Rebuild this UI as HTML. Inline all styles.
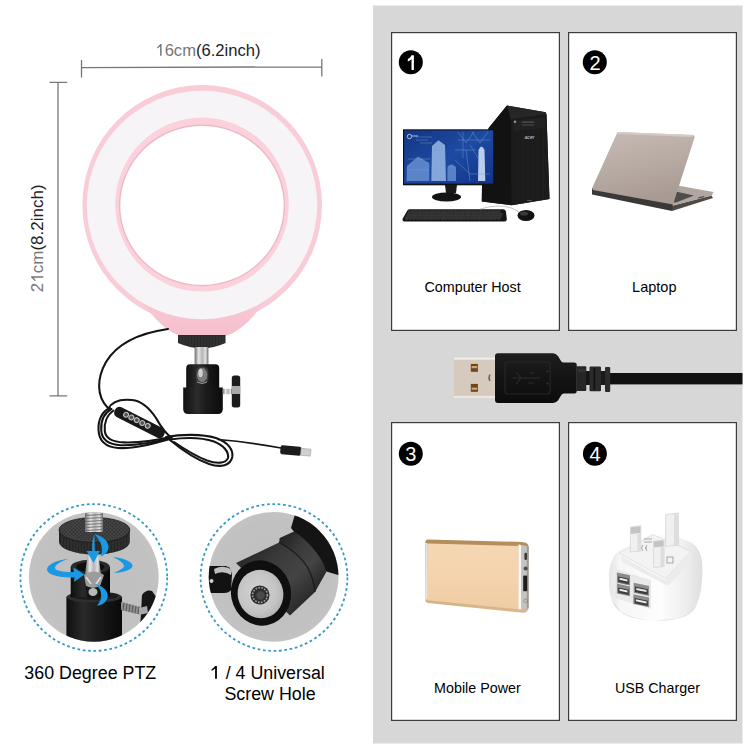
<!DOCTYPE html>
<html><head><meta charset="utf-8">
<style>
html,body{margin:0;padding:0;background:#fff;}
body{width:750px;height:750px;overflow:hidden;position:relative;font-family:"Liberation Sans",sans-serif;}
svg{position:absolute;left:0;top:0;display:block;}
</style></head>
<body>
<svg width="750" height="750" viewBox="0 0 750 750" font-family="Liberation Sans, sans-serif">
<defs>
</defs>
<rect width="750" height="750" fill="#fff"/>

<!-- ===== RIGHT PANEL ===== -->
<rect x="373" y="5.5" width="369.5" height="738" fill="#d7d7d7"/>
<g fill="#fff" stroke="#3c3c3c" stroke-width="1.2">
  <rect x="391.6" y="32.6" width="167.8" height="297.8"/>
  <rect x="568.6" y="32.6" width="167.8" height="297.8"/>
  <rect x="391.6" y="422.6" width="167.8" height="297.8"/>
  <rect x="568.6" y="422.6" width="167.8" height="297.8"/>
</g>
<g fill="#000">
  <circle cx="410.8" cy="62.2" r="12"/>
  <circle cx="594.8" cy="62.2" r="12"/>
  <circle cx="410.8" cy="453.8" r="12"/>
  <circle cx="594.9" cy="453.8" r="12"/>
</g>
<path d="M411.6 55.2 H413.9 V70 H411.5 V59.2 Q409.9 60.6 407.8 61.4 V59.1 Q410.3 57.9 411.6 55.2 Z" fill="#fff"/>
<g fill="#fff" font-size="20" text-anchor="middle">
  <text x="595" y="69.8">2</text>
  <text x="410.8" y="461.2">3</text>
  <text x="595" y="461.2">4</text>
</g>
<g fill="#000" font-size="14.3" text-anchor="middle">
  <text x="472.6" y="292.4">Computer Host</text>
  <text x="654.3" y="292.4" font-size="14.5">Laptop</text>
  <text x="477.4" y="692.8">Mobile Power</text>
  <text x="657.4" y="692.8">USB Charger</text>
</g>

<!-- ===== USB PLUG (middle) ===== -->
<defs>
  <linearGradient id="usbm" x1="0" x2="1" y1="0" y2="0">
    <stop offset="0" stop-color="#d9cbb8"/>
    <stop offset="0.25" stop-color="#f0e8dc"/>
    <stop offset="0.7" stop-color="#e9dfd2"/>
    <stop offset="1" stop-color="#cfc2b1"/>
  </linearGradient>
  <linearGradient id="usbb" x1="0" x2="0" y1="0" y2="1">
    <stop offset="0" stop-color="#1e1e1e"/>
    <stop offset="0.5" stop-color="#141414"/>
    <stop offset="1" stop-color="#0c0c0c"/>
  </linearGradient>
</defs>
<rect x="605" y="373" width="137.5" height="11.4" fill="#111"/>
<rect x="453.9" y="357.3" width="42" height="40.7" fill="#d5cabd"/>
<rect x="453.9" y="357.3" width="42" height="2.4" fill="#f1ece5"/>
<rect x="453.9" y="395.8" width="42" height="2.2" fill="#ede7df"/>
<rect x="470.8" y="363.9" width="7.1" height="7.9" fill="#6b4620"/>
<rect x="471.6" y="366" width="5.5" height="2.2" fill="#d5a262"/>
<rect x="470.8" y="383.9" width="7.1" height="7.9" fill="#6b4620"/>
<rect x="471.6" y="387.6" width="5.5" height="2.2" fill="#d5a262"/>
<path d="M489 374.5 Q487.5 377.7 489 381 L490.5 381 Q489.5 377.7 490.5 374.5 Z" fill="#666"/>
<path d="M495 356 Q495 353.2 498 353.2 H553 Q556 353.2 558 356 L561 361 Q562 362.5 564 362.5 H574.5 Q576.8 362.5 576.8 365 V391 Q576.8 393.6 574.5 393.6 H564 Q562 393.6 561 395.5 L558 400.5 Q556 402.9 553 402.9 H498 Q495 402.9 495 400 Z" fill="url(#usbb)"/>
<rect x="505" y="362" width="45" height="32" rx="3" fill="none" stroke="#262626" stroke-width="1.2"/>
<g stroke="#2c2c2c" stroke-width="1.1" fill="none">
  <path d="M512 378 H540 M516 372 L521 378 L516 384 M530 373 L534 373 M528 383 L534 383"/>
</g>
<circle cx="547.5" cy="371.3" r="0.9" fill="#3a3a3a"/>
<circle cx="547.5" cy="383.5" r="0.9" fill="#3a3a3a"/>
<rect x="576.5" y="366.3" width="9.8" height="24.6" rx="1" fill="#262626"/>
<rect x="578" y="369" width="7" height="3" fill="#333"/>
<rect x="586" y="371" width="4" height="14" fill="#151515"/>
<rect x="589.5" y="366.5" width="11.5" height="24.8" rx="1" fill="#2a2a2a"/>
<rect x="593.6" y="368" width="1.6" height="22" fill="#111"/>
<rect x="601" y="371" width="4.2" height="14" fill="#1a1a1a"/>
<rect x="605" y="367" width="5.2" height="25" rx="1" fill="#2b2b2b"/>
<!-- ===== COMPUTER ===== -->
<defs>
  <linearGradient id="scr" x1="0" x2="1" y1="0" y2="1">
    <stop offset="0" stop-color="#143685"/>
    <stop offset="0.5" stop-color="#1d4aa2"/>
    <stop offset="1" stop-color="#12338a"/>
  </linearGradient>
</defs>
<path d="M481.8 201.4 L482.5 150 L488.7 128 L507 105.6 L545.7 112.2 L546.5 114.5 L549.5 199 L511.5 205.2 Z" fill="#161616"/>
<path d="M481.8 201.4 L482.5 150 L488.7 128 L507 105.6 L510.7 119.3 L511.5 205.2 Z" fill="#121212"/>
<path d="M507 105.6 L545.7 112.2 L546.5 114.5 L510.7 119.3 Z" fill="#262626"/>
<path d="M510.7 119.3 L546.5 114.5 L549.5 199 L511.5 205.2 Z" fill="#1b1b1b"/>
<path d="M513 121 L545 117 L545.5 128 L513.5 131 Z" fill="#222"/>
<g stroke="#262626" stroke-width="0.6"><path d="M518 130 V204 M523 129.5 V203.5 M528 129 V202.5 M533 128.5 V201.8 M538 128 V201 M543 127.5 V200.3"/></g>
<circle cx="515" cy="121.7" r="1.2" fill="#9a9a9a"/>
<rect x="522" y="121.5" width="12" height="1.2" fill="#555"/>
<rect x="522" y="124.3" width="12" height="1.2" fill="#444"/>
<text x="529.5" y="138.5" font-size="5.2" fill="#d0d0d0" text-anchor="middle" font-style="italic">acer</text>
<rect x="527" y="200" width="5" height="1" fill="#555"/>
<rect x="403" y="129.3" width="91" height="56" fill="#111"/>
<rect x="404.2" y="130.4" width="89" height="53.2" fill="url(#scr)"/>
<g fill="#8fb6ea" opacity="0.55">
  <path d="M406.7 181 L407 166 L418 156.5 L429.3 163 L429.3 181 Z"/>
  <path d="M447.3 181 L447.5 166 L452 164.3 L456 167 L456 181 Z"/>
</g>
<g fill="#b4d0f4" opacity="0.7">
  <path d="M431.3 181 L432 146 L438.5 140.3 L445 145 L446 181 Z"/>
</g>
<g fill="#d6e6fa" opacity="0.85">
  <path d="M478 181 L478.5 150 Q481.5 143 484.5 150 L485.3 181 Z"/>
</g>
<g stroke="#7fa6de" stroke-width="0.5" fill="none" opacity="0.8">
  <path d="M408 159 L430 159 M406.7 170 L429 170 M433 150 H445 M433 160 H445 M433 170 H445 M436 142 V181 M441 142 V181"/>
  <path d="M458 132 L466 143 L474 132 M472 132 L480 143 L488 132 M458 140 H490 M463 132 V158 M470 145 L478 158 M455 150 H476 M466 150 L470 181 M455 160 L470 174 L490 174"/>
  <path d="M416 137 H432 M416 140 H428 M420 143 H432"/>
</g>
<circle cx="409.5" cy="136.5" r="2.2" fill="none" stroke="#cfe0f6" stroke-width="0.8"/>
<path d="M412 136 H418" stroke="#cfe0f6" stroke-width="0.8"/>
<path d="M445 185 L457 185 L456 193 L446 193 Z" fill="#1a1a1a"/>
<ellipse cx="446.5" cy="197" rx="14.5" ry="4.5" fill="#141414"/>
<path d="M409.5 209.2 H503 Q505.5 209.2 506 212 L506.8 219 Q507 221.4 504.5 221.4 H404.5 Q402 221.3 402.6 218.8 L406.8 211.5 Q407.5 209.2 409.5 209.2 Z" fill="#151515"/>
<g fill="#303030" stroke="#474747" stroke-width="0.35"><rect x="408.5" y="210.8" width="2.7" height="2.1"/><rect x="412.1" y="210.8" width="2.7" height="2.1"/><rect x="415.7" y="210.8" width="2.7" height="2.1"/><rect x="419.3" y="210.8" width="2.7" height="2.1"/><rect x="422.9" y="210.8" width="2.7" height="2.1"/><rect x="426.5" y="210.8" width="2.7" height="2.1"/><rect x="430.1" y="210.8" width="2.7" height="2.1"/><rect x="433.7" y="210.8" width="2.7" height="2.1"/><rect x="437.3" y="210.8" width="2.7" height="2.1"/><rect x="440.9" y="210.8" width="2.7" height="2.1"/><rect x="444.5" y="210.8" width="2.7" height="2.1"/><rect x="448.1" y="210.8" width="2.7" height="2.1"/><rect x="451.7" y="210.8" width="2.7" height="2.1"/><rect x="455.3" y="210.8" width="2.7" height="2.1"/><rect x="458.9" y="210.8" width="2.7" height="2.1"/><rect x="462.5" y="210.8" width="2.7" height="2.1"/><rect x="466.1" y="210.8" width="2.7" height="2.1"/><rect x="469.7" y="210.8" width="2.7" height="2.1"/><rect x="473.3" y="210.8" width="2.7" height="2.1"/><rect x="476.9" y="210.8" width="2.7" height="2.1"/><rect x="480.5" y="210.8" width="2.7" height="2.1"/><rect x="484.1" y="210.8" width="3.3" height="2.1"/><rect x="488.3" y="210.8" width="3.3" height="2.1"/><rect x="492.5" y="210.8" width="3.3" height="2.1"/><rect x="496.7" y="210.8" width="3.3" height="2.1"/><rect x="407.3" y="213.1" width="2.7" height="2.1"/><rect x="410.9" y="213.1" width="2.7" height="2.1"/><rect x="414.5" y="213.1" width="2.7" height="2.1"/><rect x="418.1" y="213.1" width="2.7" height="2.1"/><rect x="421.7" y="213.1" width="2.7" height="2.1"/><rect x="425.3" y="213.1" width="2.7" height="2.1"/><rect x="428.9" y="213.1" width="2.7" height="2.1"/><rect x="432.5" y="213.1" width="2.7" height="2.1"/><rect x="436.1" y="213.1" width="2.7" height="2.1"/><rect x="439.7" y="213.1" width="2.7" height="2.1"/><rect x="443.3" y="213.1" width="2.7" height="2.1"/><rect x="446.9" y="213.1" width="2.7" height="2.1"/><rect x="450.5" y="213.1" width="2.7" height="2.1"/><rect x="454.1" y="213.1" width="2.7" height="2.1"/><rect x="457.7" y="213.1" width="2.7" height="2.1"/><rect x="461.3" y="213.1" width="2.7" height="2.1"/><rect x="464.9" y="213.1" width="2.7" height="2.1"/><rect x="468.5" y="213.1" width="2.7" height="2.1"/><rect x="472.1" y="213.1" width="2.7" height="2.1"/><rect x="475.7" y="213.1" width="2.7" height="2.1"/><rect x="479.3" y="213.1" width="2.7" height="2.1"/><rect x="482.9" y="213.1" width="2.7" height="2.1"/><rect x="486.5" y="213.1" width="3.3" height="2.1"/><rect x="490.7" y="213.1" width="3.3" height="2.1"/><rect x="494.9" y="213.1" width="3.3" height="2.1"/><rect x="499.1" y="213.1" width="3.3" height="2.1"/><rect x="406.1" y="215.4" width="2.7" height="2.1"/><rect x="409.7" y="215.4" width="2.7" height="2.1"/><rect x="413.3" y="215.4" width="2.7" height="2.1"/><rect x="416.9" y="215.4" width="2.7" height="2.1"/><rect x="420.5" y="215.4" width="2.7" height="2.1"/><rect x="424.1" y="215.4" width="2.7" height="2.1"/><rect x="427.7" y="215.4" width="2.7" height="2.1"/><rect x="431.3" y="215.4" width="2.7" height="2.1"/><rect x="434.9" y="215.4" width="2.7" height="2.1"/><rect x="438.5" y="215.4" width="2.7" height="2.1"/><rect x="442.1" y="215.4" width="2.7" height="2.1"/><rect x="445.7" y="215.4" width="2.7" height="2.1"/><rect x="449.3" y="215.4" width="2.7" height="2.1"/><rect x="452.9" y="215.4" width="2.7" height="2.1"/><rect x="456.5" y="215.4" width="2.7" height="2.1"/><rect x="460.1" y="215.4" width="2.7" height="2.1"/><rect x="463.7" y="215.4" width="2.7" height="2.1"/><rect x="467.3" y="215.4" width="2.7" height="2.1"/><rect x="470.9" y="215.4" width="2.7" height="2.1"/><rect x="474.5" y="215.4" width="2.7" height="2.1"/><rect x="478.1" y="215.4" width="2.7" height="2.1"/><rect x="481.7" y="215.4" width="2.7" height="2.1"/><rect x="485.3" y="215.4" width="3.3" height="2.1"/><rect x="489.5" y="215.4" width="3.3" height="2.1"/><rect x="493.7" y="215.4" width="3.3" height="2.1"/><rect x="497.9" y="215.4" width="3.3" height="2.1"/><rect x="405.2" y="217.7" width="2.7" height="1.9"/><rect x="408.8" y="217.7" width="2.7" height="1.9"/><rect x="412.4" y="217.7" width="2.7" height="1.9"/><rect x="416.0" y="217.7" width="2.7" height="1.9"/><rect x="419.6" y="217.7" width="2.7" height="1.9"/><rect x="423.2" y="217.7" width="2.7" height="1.9"/><rect x="426.8" y="217.7" width="2.7" height="1.9"/><rect x="430.4" y="217.7" width="2.7" height="1.9"/><rect x="434.0" y="217.7" width="2.7" height="1.9"/><rect x="437.6" y="217.7" width="2.7" height="1.9"/><rect x="441.2" y="217.7" width="2.7" height="1.9"/><rect x="444.8" y="217.7" width="2.7" height="1.9"/><rect x="448.4" y="217.7" width="2.7" height="1.9"/><rect x="452.0" y="217.7" width="2.7" height="1.9"/><rect x="455.6" y="217.7" width="2.7" height="1.9"/><rect x="459.2" y="217.7" width="2.7" height="1.9"/><rect x="462.8" y="217.7" width="2.7" height="1.9"/><rect x="466.4" y="217.7" width="2.7" height="1.9"/><rect x="470.0" y="217.7" width="2.7" height="1.9"/><rect x="473.6" y="217.7" width="2.7" height="1.9"/><rect x="477.2" y="217.7" width="2.7" height="1.9"/><rect x="480.8" y="217.7" width="2.7" height="1.9"/><rect x="484.4" y="217.7" width="3.3" height="1.9"/><rect x="488.6" y="217.7" width="3.3" height="1.9"/><rect x="492.8" y="217.7" width="3.3" height="1.9"/><rect x="497.0" y="217.7" width="3.3" height="1.9"/></g>
<path d="M480 209 Q498 204 510 207.5 Q515 209.5 519 212" stroke="#b5b5b5" stroke-width="0.8" fill="none"/>
<ellipse cx="526" cy="215.5" rx="8.5" ry="5.5" fill="#121212"/>
<ellipse cx="524" cy="213.5" rx="4" ry="2" fill="#3a3a3a"/>

<!-- ===== LAPTOP ===== -->
<defs>
  <linearGradient id="lid" x1="0" x2="0.3" y1="0" y2="1">
    <stop offset="0" stop-color="#c7bbb5"/>
    <stop offset="0.6" stop-color="#b6a9a2"/>
    <stop offset="1" stop-color="#a99b94"/>
  </linearGradient>
</defs>
<path d="M671 206 L711.5 195.5 L713 198 L672 211 Z" fill="#4e4a48"/>
<path d="M677.3 185.5 L713.6 192 L711.5 195.8 L671 206 Z" fill="#b1a7a1"/>
<path d="M675.5 191.5 L694 195.5 L676 202.5 L671.5 202.5 Z" fill="#4f4c4c"/>
<path d="M698 197.5 L704 196 L704.5 197 L698.5 198.5 Z" fill="#444"/>
<path d="M592 188 L673 203 L672 211 L592 194.5 Z" fill="#3b3938"/>
<path d="M617.5 132 L693 135 Q695 135.5 694.6 137.5 L673 204.5 L593 190 Q592 188.5 592.6 187 Z" fill="url(#lid)"/>
<path d="M617.5 132 L693 135 L692 137 L618 134 Z" fill="#d4cbc6"/>
<!-- ===== POWER BANK ===== -->
<defs>
  <linearGradient id="pb" x1="0" x2="0" y1="0" y2="1">
    <stop offset="0" stop-color="#f5d7b3"/>
    <stop offset="0.5" stop-color="#f4d3ae"/>
    <stop offset="1" stop-color="#efcca3"/>
  </linearGradient>
  <linearGradient id="pbe" x1="0" x2="0" y1="0" y2="1">
    <stop offset="0" stop-color="#b38c58"/>
    <stop offset="0.5" stop-color="#c9a473"/>
    <stop offset="1" stop-color="#d8b98e"/>
  </linearGradient>
</defs>
<path d="M428 539.4 L522 542 Q528 542.5 528.6 546 L528.6 608 Q528 612.5 523 612.8 L428 603 Q425.3 602.5 425.3 599.5 L425.3 542.5 Q425.5 539.5 428 539.4 Z" fill="url(#pbe)"/>
<path d="M427.5 543.6 L518.4 546 L518.4 609.3 L427.5 600.3 Z" fill="url(#pb)"/>
<path d="M425.4 542.5 L427.6 543.6 L427.6 599 L425.4 600 Z" fill="#e9e4e0"/>
<path d="M518.4 544.5 L521.2 545 L521.2 609.5 L518.4 609 Z" fill="#fbfaf8"/>
<path d="M521 545 L528.6 546.5 L528.6 608 L521 610 Z" fill="#c6c3c1"/>
<path d="M526.8 546 L528.6 546.5 L528.6 608 L526.8 609 Z" fill="#9c9896"/>
<rect x="524.4" y="552.8" width="2.6" height="7.2" rx="1.2" fill="#3a3a3a"/>
<circle cx="525.6" cy="568.4" r="2" fill="#4a4a4a"/>
<rect x="523.2" y="575.6" width="4" height="15.6" fill="#1e1e1e"/>
<circle cx="525.6" cy="600.8" r="1.8" fill="none" stroke="#7a7a7a" stroke-width="0.6"/>

<!-- ===== USB CHARGER ===== -->
<defs>
  <linearGradient id="chg" x1="0" x2="1" y1="0" y2="0">
    <stop offset="0" stop-color="#e4e4e4"/>
    <stop offset="0.12" stop-color="#f6f6f6"/>
    <stop offset="0.55" stop-color="#fdfdfd"/>
    <stop offset="0.8" stop-color="#efefef"/>
    <stop offset="1" stop-color="#dedede"/>
  </linearGradient>
</defs>
<path d="M609 585 Q608 566 614 556 Q618 550 626 547 L650 537 Q662 533 676 536 L692 543 Q702 550 702.4 566 Q703 590 697 604 Q692 616 676 619.5 L656 621 Q636 621 620 612 Q610 604 609 585 Z" fill="url(#chg)"/>
<path d="M612 600 Q616 612 630 617 Q648 622 670 620 Q690 617 697 604 Q694 614 678 618.5 L656 620.5 Q636 620.5 621 612 Z" fill="#dcdcdc"/>
<path d="M619 553 L652.8 534.6 L691.2 551.4 L665.6 578.6 Z" fill="#f3f3f3" stroke="#e2e2e2" stroke-width="1"/>
<path d="M621 556 L665 580 L691 552 L692 560 L668 586 L622 562 Z" fill="#ececec"/>
<path d="M615 569 L651 580 L651 609 L615 598 Z" fill="#e9e9e9"/>
<g fill="#8c8c8c">
  <path d="M616.9 572.5 L630 575.3 L630 585.5 L616.9 582.7 Z"/>
  <path d="M616.9 583.6 L630 586.4 L630 596.2 L616.9 593.4 Z"/>
  <path d="M633.7 582.8 L649.1 586 L649.1 596 L633.7 592.8 Z"/>
  <path d="M633.3 594.2 L649.1 597.4 L649.1 607.2 L633.3 604 Z"/>
</g>
<g fill="#3c3c3c">
  <path d="M618.2 576.5 L628.8 578.8 L628.8 584.2 L618.2 581.9 Z"/>
  <path d="M618.2 587.4 L628.8 589.7 L628.8 595 L618.2 592.7 Z"/>
  <path d="M635 586.6 L647.8 589.3 L647.8 594.8 L635 592.1 Z"/>
  <path d="M634.6 598 L647.8 600.7 L647.8 606 L634.6 603.3 Z"/>
</g>
<g fill="#ececec">
  <path d="M619.5 577.8 L627.5 579.5 L627.5 581.5 L619.5 579.8 Z"/>
  <path d="M619.5 588.7 L627.5 590.4 L627.5 592.4 L619.5 590.7 Z"/>
  <path d="M636.3 587.9 L646.5 590 L646.5 592 L636.3 589.9 Z"/>
  <path d="M635.9 599.3 L646.5 601.5 L646.5 603.5 L635.9 601.3 Z"/>
</g>
<g fill="#f0f0f0" stroke="#d0d0d0" stroke-width="0.7">
  <path d="M630.4 527 L640.8 525.8 L640.8 551 L630.4 552 Z"/>
  <path d="M665.6 514.5 L678.4 513 L678.4 545 L665.6 546.5 Z"/>
  <path d="M653.6 541 L664 540.2 L664 566.6 L653.6 567.4 Z"/>
</g>
<g fill="#c4c4c4"><path d="M630.8 527.5 L640.4 526.3 L640.4 533 L630.8 534 Z"/><path d="M654 541.4 L663.6 540.6 L663.6 546.5 L654 547.2 Z"/></g>
<g fill="#dedede"><path d="M674 513.5 L678.4 513 L678.4 545 L674 545.5 Z"/><path d="M637.5 534 L640.8 533.6 L640.8 551 L637.5 551.3 Z"/><path d="M660.5 547 L664 546.6 L664 566.6 L660.5 567 Z"/></g>
<g fill="none" stroke="#8a8a8a" stroke-width="0.7">
  <path d="M643 545 Q640 548 643 551 M647 545 Q644 548 647 551 M645 548 H647"/>
  <rect x="667" y="557" width="6" height="6"/>
  <path d="M644 539 H652 M644 542 H652"/>
</g>

<!-- ===== LEFT TEXT ===== -->
<g text-anchor="middle">
  <text x="164.63" y="55.8" font-size="16.6" text-anchor="start"><tspan fill="#777">6cm</tspan><tspan fill="#222">(6.2inch)</tspan></text>
  <path d="M160.1 43.9 H161.6 V55.8 H160.1 V46.5 Q158.9 47.7 157.2 48.5 V47 Q159.2 45.9 160.1 43.9 Z" fill="#777"/>
  <g transform="translate(43.3,238.3) rotate(-90)">
    <text x="-53.85" y="0" font-size="17" text-anchor="start"><tspan fill="#777">2</tspan></text>
    <path d="M-39.55 -12.17 H-38.0 V0 H-39.55 V-9.5 Q-40.8 -8.3 -42.55 -7.4 V-8.9 Q-40.5 -10.1 -39.55 -12.17 Z" fill="#777"/>
    <text x="-34.95" y="0" font-size="17" text-anchor="start"><tspan fill="#777">cm</tspan><tspan fill="#222">(8.2inch)</tspan></text>
  </g>
</g>
<g stroke="#777" stroke-width="1.3" fill="none">
  <path d="M81.5 67.6 L321.8 66.8 M81.5 60 V77.5 M321.8 59 V76.5"/>
  <path d="M58 82.4 V395.8 M49.5 82.4 H67.2 M49.5 395.8 H67.2"/>
</g>
<!-- ===== RING LIGHT ===== -->
<g id="ring">
  <defs>
    <linearGradient id="chin" x1="0" x2="0" y1="0" y2="1">
      <stop offset="0" stop-color="#f9c9d5"/>
      <stop offset="1" stop-color="#f6bfcd"/>
    </linearGradient>
  </defs>
  <ellipse cx="202.2" cy="205" rx="119.8" ry="120" fill="#f9cdd8"/>
  <path d="M140 300 Q164 332 180 335.5 L226 335.5 Q244 331 266 300 Z" fill="url(#chin)"/>
  <ellipse cx="202" cy="204.95" rx="115.2" ry="114.25" fill="#f7f4f7"/>
  <ellipse cx="202" cy="204.55" rx="86.8" ry="87.05" fill="#fbd1db"/>
  <ellipse cx="202" cy="205.4" rx="82.4" ry="80.2" fill="none" stroke="#eab8c7" stroke-width="1.3"/>
  <ellipse cx="202" cy="205.4" rx="81.6" ry="79.4" fill="#fff"/>
</g>
<!-- cable -->
<g fill="none" stroke="#141414" stroke-width="2.1" stroke-linecap="round" stroke-linejoin="round">
  <path d="M168 329 C140 333 118 342 106 362 C97 378 96 396 108 408"/>
  <path d="M108 409 C112 401 122 399 132 400 C143 401 150 409 156 418 C161 427 166 434 172 438"/>
  <path d="M110 408 C102 411 98 420 98.5 430 C99 441 106 447 118 448 C134 449 152 444 170 439"/>
  <path d="M111.5 409 C104 413 100.8 421 101.2 430 C101.6 440 109 444.6 121 445.2 C138 445.8 154 442.5 170 438"/>
  <path d="M113.5 410.5 C107 415 104 423 104.8 431 C105.6 438.5 112 442 124 442.4 C142 442.8 156 440.5 170 437"/>
  <path d="M166 437 C182 434 202 434 216 438 C228 442 233.5 450 232.3 457 C230.5 465.5 221 468 209 464 C195 459 182 450 170 440"/>
  <path d="M170 439.5 C184 437.5 202 437.5 214 441.5 C224 445.5 229 452 228 458 C226 463.5 217 464 207 460.5 C194 455.5 182 447.5 174 442"/>
  <path d="M218 439.5 C243 441.5 262 444.5 281 448" stroke-width="1.7"/>
</g>
<!-- remote -->
<g transform="translate(139.5,422.5) rotate(27)">
  <rect x="-27.5" y="-5.5" width="55" height="11" rx="4.5" fill="#181818"/>
  <g fill="#555" stroke="#c4c4c4" stroke-width="1.1">
    <circle cx="-15.5" cy="-0.8" r="2.4"/>
    <circle cx="-9.5" cy="-0.8" r="2.4"/>
    <circle cx="-3.5" cy="-0.8" r="2.4"/>
    <circle cx="2.7" cy="-0.8" r="2.4"/>
    <circle cx="8.8" cy="-0.8" r="2.4"/>
  </g>
</g>
<!-- usb plug left -->
<g transform="translate(280.7,446) rotate(5)">
  <rect x="0" y="-1" width="21" height="9" rx="2" fill="#1c1c1c"/>
  <rect x="20.5" y="0.5" width="10" height="7" fill="#cfcfcf" stroke="#999" stroke-width="0.5"/>
</g>
<!-- mount -->
<g id="mount">
  <path d="M178 335 H225.5 V343 Q214 348.3 201.8 348.3 Q190 348.3 178 343 Z" fill="#2a2a2a"/>
  <g stroke="#3e3e3e" stroke-width="0.8">
    <path d="M181 336 V344 M184 336 V345 M187 336 V346 M190 336 V346 M193 336 V346 M196 336 V346 M199 336 V346 M202 336 V346 M205 336 V346 M208 336 V346 M211 336 V346 M214 336 V346 M217 336 V346 M220 336 V345 M223 336 V344"/>
  </g>
  <defs>
    <linearGradient id="silv" x1="0" x2="1" y1="0" y2="0">
      <stop offset="0" stop-color="#6d6d6d"/>
      <stop offset="0.3" stop-color="#e6e6e6"/>
      <stop offset="0.55" stop-color="#b5b5b5"/>
      <stop offset="0.8" stop-color="#e0e0e0"/>
      <stop offset="1" stop-color="#6a6a6a"/>
    </linearGradient>
    <linearGradient id="blk" x1="0" x2="1" y1="0" y2="0">
      <stop offset="0" stop-color="#111"/>
      <stop offset="0.35" stop-color="#2c2c2c"/>
      <stop offset="0.6" stop-color="#1a1a1a"/>
      <stop offset="1" stop-color="#0c0c0c"/>
    </linearGradient>
  </defs>
  <rect x="194.6" y="347" width="13.8" height="19" fill="url(#silv)"/>
  <path d="M186.2 368 Q186.2 364.2 190 364.2 H215.4 Q219.2 364.2 219.2 368 V388 H186.2 Z" fill="url(#blk)"/>
  <path d="M183.2 387.6 H222.8 V409 Q222.8 414 217.8 414 H188.2 Q183.2 414 183.2 409 Z" fill="url(#blk)"/>
  <path d="M195.8 371 Q195.8 366.5 202 366.5 Q208.4 366.5 208.4 371 V379 Q208.4 384 202 384 Q195.8 384 195.8 379 Z" fill="#3a3a3a"/>
  <ellipse cx="202.1" cy="375" rx="5.2" ry="7.2" fill="#7c7c7c"/>
  <ellipse cx="200.6" cy="373" rx="2.2" ry="4.2" fill="#d0d0d0"/>
  <path d="M197 382 Q202 385 207 382" stroke="#aaa" stroke-width="0.8" fill="none"/>
  <rect x="222.5" y="388.8" width="10" height="5.4" fill="url(#silv)" transform="rotate(0)"/>
  <rect x="231.8" y="375.6" width="8.4" height="31.8" rx="2.5" fill="#1b1b1b"/>
  <rect x="231.8" y="386" width="8.4" height="8" fill="#a8a8a8"/>
</g>

<!-- ===== DETAIL CIRCLES ===== -->
<defs>
  <clipPath id="c1"><circle cx="93.8" cy="576.8" r="64.9"/></clipPath>
  <clipPath id="c2"><circle cx="273.6" cy="576.8" r="64.9"/></clipPath>
  <radialGradient id="gbg" cx="0.5" cy="0.5" r="0.5">
    <stop offset="0" stop-color="#bfbfbf"/>
    <stop offset="0.85" stop-color="#c1c1c1"/>
    <stop offset="1" stop-color="#c3c3c3"/>
  </radialGradient>
  <linearGradient id="cylh" x1="0" x2="1" y1="0" y2="0">
    <stop offset="0" stop-color="#0e0e0e"/>
    <stop offset="0.3" stop-color="#2a2a2a"/>
    <stop offset="0.55" stop-color="#1c1c1c"/>
    <stop offset="1" stop-color="#080808"/>
  </linearGradient>
  <linearGradient id="cylv" x1="0" x2="0" y1="0" y2="1">
    <stop offset="0" stop-color="#111"/>
    <stop offset="0.3" stop-color="#2b2b2b"/>
    <stop offset="0.6" stop-color="#1d1d1d"/>
    <stop offset="1" stop-color="#0a0a0a"/>
  </linearGradient>
  <linearGradient id="silv2" x1="0" x2="1" y1="0" y2="1">
    <stop offset="0" stop-color="#e2e2e2"/>
    <stop offset="0.5" stop-color="#bdbdbd"/>
    <stop offset="1" stop-color="#d6d6d6"/>
  </linearGradient>
</defs>
<g fill="none" stroke="#3399c4" stroke-width="1.8" stroke-dasharray="2.7 2.67">
  <circle cx="93.8" cy="577.5" r="73.4"/>
  <circle cx="274" cy="577.5" r="73.4"/>
</g>
<circle cx="93.8" cy="576.8" r="64.9" fill="url(#gbg)"/>
<circle cx="273.6" cy="576.8" r="64.9" fill="url(#gbg)"/>

<!-- circle 1: ball head -->
<defs>
  <pattern id="knurl" width="2.6" height="2.6" patternUnits="userSpaceOnUse" patternTransform="rotate(45)">
    <rect width="2.6" height="2.6" fill="#2a2a2a"/>
    <rect width="1.1" height="2.6" fill="#474747"/>
    <rect width="2.6" height="1.1" fill="#474747"/>
  </pattern>
</defs>
<g clip-path="url(#c1)">
  <!-- lower cylinder -->
  <path d="M66.4 597 H122 V660 H66.4 Z" fill="url(#cylh)"/>
  <ellipse cx="94.2" cy="597" rx="27.8" ry="5.5" fill="#2e2e2e"/>
  <ellipse cx="94.2" cy="596" rx="24" ry="4" fill="#1c1c1c"/>
  <!-- cup -->
  <path d="M70.7 567 H110 V597 H70.7 Z" fill="url(#cylh)"/>
  <ellipse cx="90.3" cy="567" rx="19.6" ry="7.2" fill="#2a2a2a"/>
  <ellipse cx="90.3" cy="567" rx="14" ry="4.8" fill="#0e0e0e"/>
  <!-- ball/post -->
  <path d="M88 552 L98 552 L101 574 L85 574 Z" fill="url(#silv)"/>
  <path d="M84 575 Q93 568 104 575 L100 586 Q93 590 86 586 Z" fill="#9c9c9c"/>
  <path d="M86 577 L91 584 M101 577 L96 584" stroke="#e0e0e0" stroke-width="1.5"/>
  <path d="M86 586 Q93 590 100 586 L99 597 Q93 601 87 597 Z" fill="#161616"/>
  <ellipse cx="93" cy="592" rx="4.5" ry="4" fill="#b8b8b8"/>
  <!-- disc -->
  <path d="M59 530 V542 A35.4 12.5 0 0 0 129.8 542 V530 Z" fill="#252525"/>
  <g stroke="#3e3e3e" stroke-width="0.8">
    <path d="M62 533 V546 M65 533 V548 M68 533 V550 M71 533 V551 M74 533 V552 M77 533 V553 M80 533 V554 M83 533 V554 M86 533 V554.5 M89 533 V554.5 M92 533 V554.5 M95 533 V554.5 M98 533 V554.5 M101 533 V554.5 M104 533 V554 M107 533 V554 M110 533 V553 M113 533 V552 M116 533 V551 M119 533 V550 M122 533 V548 M125 533 V546 M128 533 V544"/>
  </g>
  <ellipse cx="94.4" cy="530" rx="35.4" ry="12.5" fill="url(#knurl)" stroke="#1a1a1a" stroke-width="0.8"/>
  <!-- screw -->
  <rect x="85" y="513" width="18" height="19" fill="url(#silv)"/>
  <g stroke="#6a6a6a" stroke-width="0.9"><path d="M85 515.5 L103 514.5 M85 518.5 L103 517.5 M85 521.5 L103 520.5 M85 524.5 L103 523.5 M85 527.5 L103 526.5 M85 530.5 L103 529.5"/></g>
  <!-- side knob -->
  <path d="M121 602 L143 608 L141.5 615 L121 610 Z" fill="#8e8e8e"/>
  <g stroke="#4a4a4a" stroke-width="0.8"><path d="M124 602.5 L123 610.5 M127 603.3 L126 611.2 M130 604 L129 612 M133 604.8 L132 612.7 M136 605.6 L135 613.4 M139 606.4 L138 614"/></g>
  <path d="M142 595 Q146 589 152 591 L157 598 L150 632 L140 630 Z" fill="#161616"/>
  <path d="M139 608 L147 606 L148 613 L139 615 Z" fill="#a8a8a8"/>
  <!-- blue arrows -->
  <g fill="#1a98e2">
    <path d="M68 559 C56 560 47 565 47 569.5 C47 574 56 577 70 577.5 L74.5 577.5 L74 582 L84.5 574.5 L73.5 567.5 L73.8 572 L68 572 C60 571.5 55 570 55 568 C55 565 60 561.5 68 559 Z"/>
    <path d="M113 557 C124 558 133 562 132.5 566 C132 570 123 572.5 114 573 C120 570 124 568 124 566 C124 563 119 560 113 557 Z"/>
    <path d="M94.5 534 C103 536 109.5 542 108.5 548.5 C107.5 553 104 555.5 100.5 556.5 C102.5 552 102.5 546.5 100 542 C98.5 539 96.5 536 94.5 534 Z"/>
    <path d="M94.5 534 C92 540 91.8 546 92.5 553 L95 553 C94.5 546 94.5 540 94.5 534 Z"/>
    <path d="M86.5 551 L100 551 L93.5 563 Z"/>
    <path d="M95 584 C104 586 109 592 107.5 598 C106 603 101 605.5 97 605.5 C101 601 102 596 100.5 591 C99.5 588 97.5 586 95 584 Z"/>
  </g>
</g>

<!-- circle 2: screw hole -->
<defs>
  <linearGradient id="seg" x1="0" y1="0" x2="1" y2="1">
    <stop offset="0" stop-color="#1c1c1c"/>
    <stop offset="0.35" stop-color="#3a3a3a"/>
    <stop offset="0.6" stop-color="#444"/>
    <stop offset="0.85" stop-color="#2a2a2a"/>
    <stop offset="1" stop-color="#151515"/>
  </linearGradient>
  <radialGradient id="face" cx="0.45" cy="0.45" r="0.6">
    <stop offset="0" stop-color="#d4d4d4"/>
    <stop offset="0.7" stop-color="#c4c4c4"/>
    <stop offset="1" stop-color="#b0b0b0"/>
  </radialGradient>
</defs>
<g clip-path="url(#c2)">
  <path d="M291 528 L294.6 515.6 Q300 508 320 505 L345 505 L345 580 L339 575.3 L326.3 571.6 Z" fill="#141414"/>
  <path d="M279.7 538 L294 531.5 Q305 538 316 552 Q324 562 326.3 572 L315 592 L279 543 Z" fill="url(#seg)"/>
  <path d="M236 563 L279 542.5 Q298 552 308 568 Q314 580 315 592 L290 615.5 Z" fill="url(#seg)"/>
  <path d="M279 542.5 Q298 552 308 568 Q314 580 315 592" fill="none" stroke="#1a1a1a" stroke-width="1.2"/>
  <ellipse cx="261" cy="593" rx="30" ry="32.8" transform="rotate(-12 261 593)" fill="#0f0f0f"/>
  <ellipse cx="260.5" cy="594" rx="22.8" ry="24.3" transform="rotate(-12 260.5 594)" fill="url(#face)"/>
  <circle cx="260" cy="595" r="9.6" fill="#2e2e2e"/>
  <circle cx="260" cy="595" r="7.4" fill="none" stroke="#a0a0a0" stroke-width="1.6" stroke-dasharray="1.6 1.4"/>
  <circle cx="260.5" cy="595.5" r="4.2" fill="#4a4a4a"/>
  <!-- left knob -->
  <path d="M206 566 L226 566 Q232 568 232 575 L231 590 Q229 593 224 593 L206 593 Z" fill="#121212"/>
  <path d="M214 569 Q224 564 232 570 L231 575 Q223 570 215 574 Z" fill="#bdbdbd"/>
  <circle cx="211.5" cy="581" r="2" fill="#cfcfcf"/>
</g>

<g fill="#000" font-size="17.85" text-anchor="middle">
  <text x="90.3" y="678.8">360 Degree PTZ</text>
  <text x="225.64" y="678.8" text-anchor="start">/ 4 Universal</text>
  <path d="M215.1 665.9 H216.9 V678.8 H215.1 V668.6 Q213.6 670 211.6 670.9 V669.2 Q213.9 667.9 215.1 665.9 Z" fill="#000"/>
  <text x="270" y="699.5">Screw Hole</text>
</g>

</svg>
</body></html>
